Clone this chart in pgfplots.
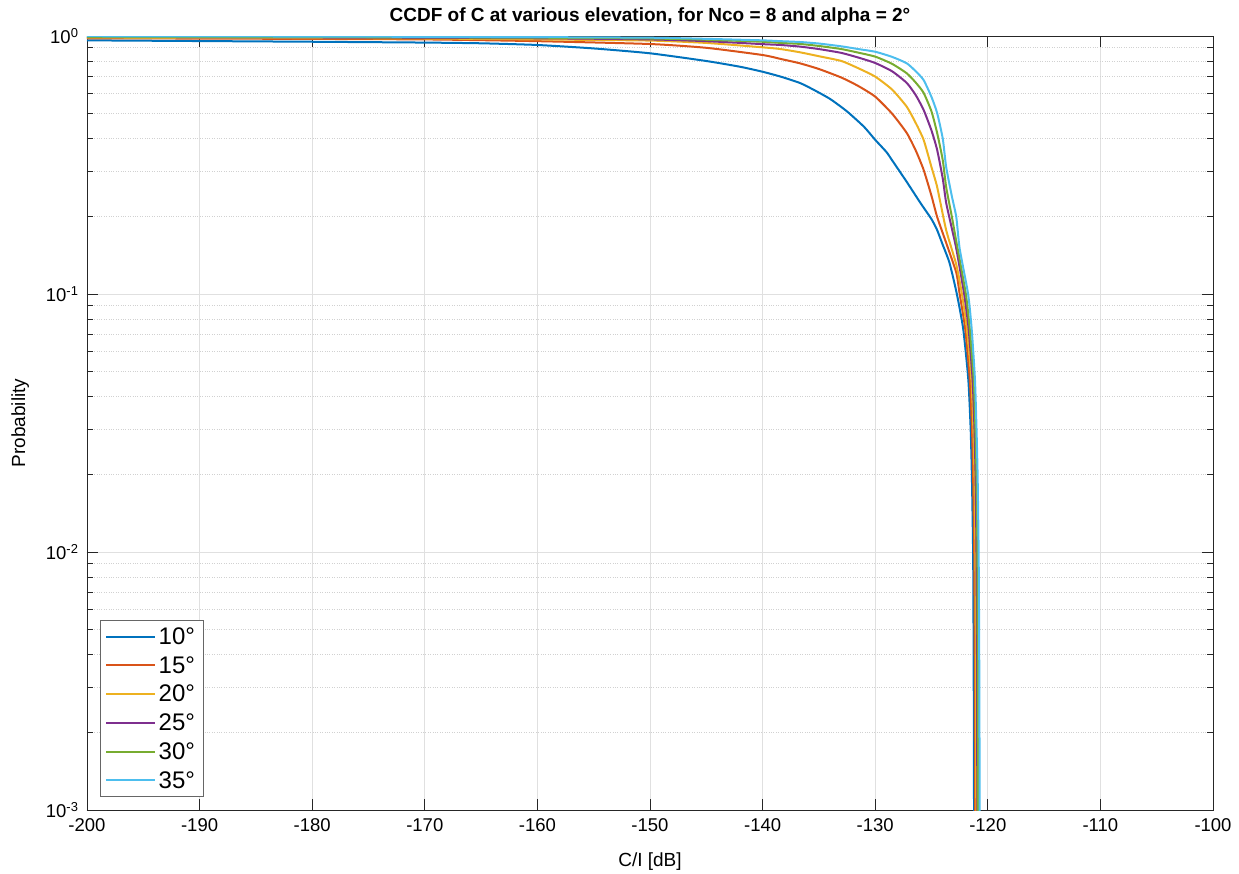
\documentclass[border=0pt]{standalone}
\usepackage{fontspec}
\setmainfont{Liberation Sans}
\usepackage{pgfplots}
\pgfplotsset{compat=1.18}
\definecolor{c1}{rgb}{0,0.447,0.741}
\definecolor{c2}{rgb}{0.85,0.325,0.098}
\definecolor{c3}{rgb}{0.929,0.694,0.125}
\definecolor{c4}{rgb}{0.494,0.184,0.556}
\definecolor{c5}{rgb}{0.466,0.674,0.188}
\definecolor{c6}{rgb}{0.301,0.745,0.933}
\begin{document}
\begin{tikzpicture}
\begin{semilogyaxis}[
  scale only axis,
  width=1126pt, height=774pt,
  xmin=-200, xmax=-100, ymin=0.001, ymax=1,
  xtick={-200,-190,...,-100},
  xticklabels={-200,-190,-180,-170,-160,-150,-140,-130,-120,-110,-100},
  ytick={0.001,0.01,0.1,1},
  yticklabels={{10\textsuperscript{-3}},{10\textsuperscript{-2}},{10\textsuperscript{-1}},{10\textsuperscript{0}}},
  tick label style={font=\fontsize{18.5}{22}\selectfont},
  xticklabel style={yshift=-5pt},
  yticklabel style={xshift=-5pt},
  tick align=inside,
  major tick length=11pt, minor tick length=6pt,
  axis line style={draw=black!85, line width=0.8pt},
  every tick/.style={draw=black!85, line width=0.8pt},
  grid=both,
  major grid style={draw=black!12, line width=0.8pt},
  minor y grid style={draw=black!18, dotted, line width=0.8pt},
  minor x grid style={draw=none},
  title={\bfseries CCDF of C at various elevation, for Nco = 8 and alpha = 2°},
  title style={font=\fontsize{19}{22}\selectfont, yshift=1pt},
  xlabel={C/I [dB]},
  ylabel={Probability},
  label style={font=\fontsize{19}{22}\selectfont},
  xlabel style={yshift=-14pt},
  ylabel style={yshift=10pt},
  legend style={at={(0.0115,0.0168)}, anchor=south west, font=\fontsize{24}{28}\selectfont,
    draw=black!60, line width=0.8pt, row sep=8.5pt, inner xsep=5pt, inner ysep=6pt,
    nodes={inner xsep=3pt, inner ysep=1pt},
    /tikz/every even column/.append style={column sep=6pt}},
  legend cell align=left,
  legend image code/.code={\draw[#1, line width=2pt] (0cm,0cm) -- (1.7cm,0cm);},
  every axis plot/.append style={line width=2pt, smooth, tension=0.35},
]
\addplot[c1] coordinates {(-200,0.962) (-190,0.956) (-180,0.95) (-170,0.943) (-165,0.937) (-160,0.923) (-155,0.895) (-150,0.857) (-145,0.80) (-142,0.76) (-140,0.727) (-138.4,0.696) (-136.7,0.658) (-135.5,0.62) (-134,0.57) (-132.5,0.51) (-131,0.445) (-130,0.396) (-129,0.355) (-128.5,0.33) (-127.2,0.272) (-126,0.226) (-125,0.195) (-124.5,0.177) (-124,0.155) (-123.4,0.132) (-122.75,0.1) (-122.18,0.073) (-121.73,0.0465) (-121.52,0.0297) (-121.41,0.0192) (-121.3,0.0094) (-121.25,0.003) (-121.22,0.0008)};
\addlegendentry{10°}
\addplot[c2] coordinates {(-200,0.98) (-185,0.976) (-170,0.97) (-160,0.955) (-150,0.931) (-145,0.90) (-140,0.844) (-138.4,0.815) (-136.7,0.784) (-135,0.745) (-133,0.69) (-131.5,0.64) (-130,0.582) (-128.5,0.50) (-127.2,0.421) (-126.4,0.36) (-125.7,0.303) (-125,0.24) (-124.5,0.199) (-123.7,0.158) (-122.8,0.121) (-122.5,0.1) (-122.0,0.073) (-121.6,0.0465) (-121.4,0.0297) (-121.3,0.0192) (-121.2,0.0094) (-121.15,0.003) (-121.12,0.0008)};
\addlegendentry{15°}
\addplot[c3] coordinates {(-200,0.985) (-180,0.982) (-170,0.978) (-160,0.97) (-150,0.96) (-145,0.94) (-140,0.904) (-138.4,0.89) (-136.7,0.865) (-135,0.835) (-133,0.80) (-131.5,0.75) (-130,0.696) (-128.5,0.62) (-127.2,0.532) (-126.4,0.46) (-125.7,0.396) (-125,0.31) (-124.5,0.26) (-123.7,0.177) (-122.8,0.13) (-122.3,0.1) (-121.85,0.073) (-121.45,0.0465) (-121.28,0.0297) (-121.18,0.0192) (-121.1,0.0094) (-121.05,0.003) (-121.02,0.0008)};
\addlegendentry{20°}
\addplot[c4] coordinates {(-200,0.99) (-180,0.987) (-160,0.98) (-150,0.97) (-145,0.955) (-140,0.93) (-138.4,0.923) (-136.7,0.91) (-135,0.89) (-133,0.86) (-131.5,0.825) (-130,0.786) (-128.5,0.73) (-127.2,0.658) (-126.4,0.59) (-125.7,0.517) (-125,0.43) (-124.5,0.362) (-124,0.28) (-123.7,0.226) (-123.2,0.18) (-122.8,0.15) (-122.1,0.1) (-121.7,0.073) (-121.35,0.0465) (-121.18,0.0297) (-121.08,0.0192) (-121.0,0.0094) (-120.95,0.003) (-120.93,0.0008)};
\addlegendentry{25°}
\addplot[c5] coordinates {(-200,0.993) (-180,0.99) (-160,0.985) (-150,0.978) (-145,0.967) (-140,0.95) (-138.4,0.94) (-136.7,0.932) (-135,0.915) (-133,0.89) (-131.5,0.862) (-130,0.832) (-128.5,0.78) (-127.2,0.717) (-126.4,0.66) (-125.7,0.602) (-125,0.51) (-124.5,0.421) (-124,0.33) (-123.7,0.26) (-123.2,0.2) (-122.8,0.16) (-121.95,0.1) (-121.6,0.073) (-121.25,0.0465) (-121.1,0.0297) (-121.0,0.0192) (-120.92,0.0094) (-120.88,0.003) (-120.86,0.0008)};
\addlegendentry{30°}
\addplot[c6] coordinates {(-200,0.998) (-180,0.995) (-160,0.99) (-150,0.985) (-145,0.975) (-140,0.962) (-138.4,0.955) (-136.7,0.948) (-135,0.935) (-133,0.912) (-131.5,0.89) (-130,0.869) (-128.5,0.83) (-127.2,0.784) (-126.4,0.73) (-125.7,0.675) (-125,0.58) (-124.5,0.503) (-124,0.40) (-123.7,0.311) (-123.2,0.24) (-122.8,0.199) (-122.5,0.15) (-121.75,0.1) (-121.43,0.073) (-121.14,0.0465) (-121.0,0.0297) (-120.9,0.0192) (-120.81,0.0094) (-120.75,0.003) (-120.72,0.0008)};
\addlegendentry{35°}
\end{semilogyaxis}
\pgfresetboundingbox
\path[use as bounding box] ([shift={(-87pt,-63pt)}]current axis.south west) rectangle ([shift={(26pt,36pt)}]current axis.north east);
\end{tikzpicture}
\end{document}
